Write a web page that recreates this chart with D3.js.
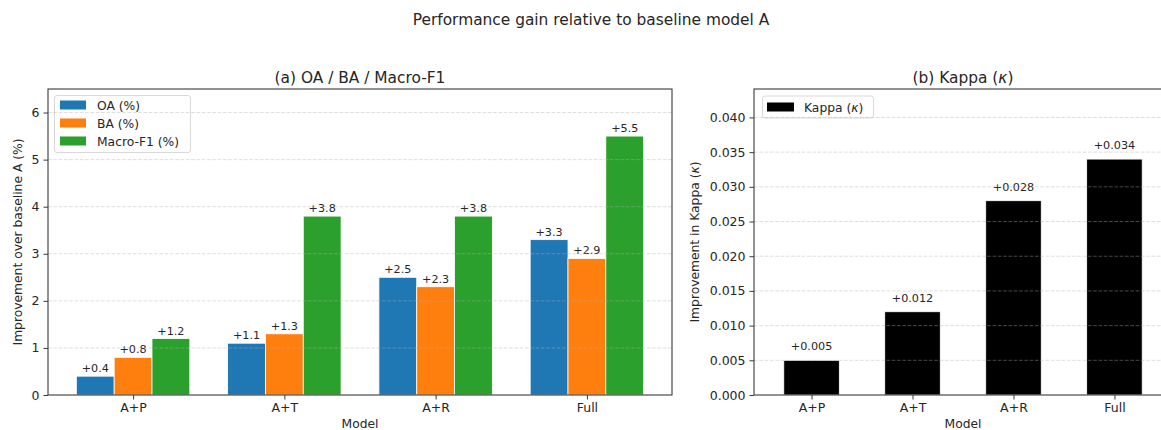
<!DOCTYPE html>
<html>
<head>
<meta charset="utf-8">
<script src="https://cdn.jsdelivr.net/npm/d3@7"></script>
<style>
  html, body { margin: 0; padding: 0; background: #fff; }
  svg { display: block; font-family: "DejaVu Sans", sans-serif; }
</style>
</head>
<body>
<svg id="chart" width="1161" height="430"></svg>
<script>
// Model variants compared against baseline A
const models = ["A+P", "A+T", "A+R", "Full"];

// Improvement in percentage points for each metric
const seriesNames = ["OA (%)", "BA (%)", "Macro-F1 (%)"];
const oaGain = [0.4, 1.1, 2.5, 3.3];
const baGain = [0.8, 1.3, 2.3, 2.9];
const f1Gain = [1.2, 3.8, 3.8, 5.5];

// Improvement in Cohen's kappa
const kappaGain = [0.005, 0.012, 0.028, 0.034];

// Tick values
const leftTicks = [0, 1, 2, 3, 4, 5, 6];
const rightTicks = [0, 0.005, 0.010, 0.015, 0.020, 0.025, 0.030, 0.035, 0.040];

const colors = ["#1f77b4", "#ff7f0e", "#2ca02c"];
const textColor = "#262626";
const spineColor = "#3a3a3a";

const svg = d3.select("#chart");

svg.append("text")
  .attr("x", 591).attr("y", 25)
  .attr("text-anchor", "middle")
  .attr("font-size", 15.4)
  .attr("fill", textColor)
  .text("Performance gain relative to baseline model A");

// Writes "prefix (κ)" with an italic kappa, as mathtext would
function kappaText(sel, prefix) {
  sel.append("tspan").text(prefix + " (");
  sel.append("tspan").attr("font-style", "italic").text("\u03BA");
  sel.append("tspan").text(")");
}

function drawPanel(opts) {
  const { left, right, top, bottom, xDomain, yMax, ticks, tickFmt } = opts;
  const g = svg.append("g");
  const x = d3.scaleLinear().domain(xDomain).range([left, right]);
  const y = d3.scaleLinear().domain([0, yMax]).range([bottom, top]);

  // bars
  opts.drawBars(g, x, y);

  // dashed grid over the bars
  g.append("g").selectAll("line")
    .data(ticks.filter(t => t > 0))
    .join("line")
    .attr("x1", left).attr("x2", right)
    .attr("y1", d => y(d)).attr("y2", d => y(d))
    .attr("stroke", "#b0b0b0")
    .attr("stroke-opacity", 0.45)
    .attr("stroke-width", 0.9)
    .attr("stroke-dasharray", "3.7,1.6");

  // y axis
  const yAxis = d3.axisLeft(y).tickValues(ticks).tickFormat(tickFmt)
    .tickSize(4.5).tickPadding(4);
  const ya = g.append("g").attr("transform", `translate(${left},0)`).call(yAxis);
  ya.select(".domain").remove();
  ya.selectAll(".tick line").attr("stroke", spineColor).attr("stroke-width", 1);
  ya.selectAll(".tick text").attr("font-size", 12.5).attr("fill", textColor)
    .attr("font-family", "DejaVu Sans, sans-serif");

  // x axis
  const xAxis = d3.axisBottom(x).tickValues(d3.range(models.length))
    .tickFormat(i => models[i]).tickSize(4.5).tickPadding(3.5);
  const xa = g.append("g").attr("transform", `translate(0,${bottom})`).call(xAxis);
  xa.select(".domain").remove();
  xa.selectAll(".tick line").attr("stroke", spineColor).attr("stroke-width", 1);
  xa.selectAll(".tick text").attr("font-size", 12.5).attr("fill", textColor)
    .attr("font-family", "DejaVu Sans, sans-serif");

  // spines
  g.append("rect")
    .attr("x", left).attr("y", top)
    .attr("width", right - left).attr("height", bottom - top)
    .attr("fill", "none").attr("stroke", spineColor).attr("stroke-width", 1.1);

  // titles and labels
  const cx = (left + right) / 2;
  const title = g.append("text").attr("x", cx).attr("y", top - 6.5)
    .attr("text-anchor", "middle").attr("font-size", 15.4).attr("fill", textColor);
  opts.title(title);
  g.append("text").attr("x", cx).attr("y", bottom + 32.5)
    .attr("text-anchor", "middle").attr("font-size", 12.3).attr("fill", textColor)
    .text("Model");
  const yl = g.append("text")
    .attr("transform", `translate(${opts.ylabelX},${(top + bottom) / 2}) rotate(-90)`)
    .attr("text-anchor", "middle").attr("font-size", 12.3).attr("fill", textColor);
  opts.ylabel(yl);

  return g;
}

function valueLabel(g, xc, yTop, text) {
  g.append("text")
    .attr("x", xc).attr("y", yTop - 4)
    .attr("text-anchor", "middle")
    .attr("font-size", 11.2)
    .attr("fill", textColor)
    .text(text);
}

// (a) grouped bars
const gainSeries = [oaGain, baGain, f1Gain];
const groupWidth = 0.25;
drawPanel({
  left: 48, right: 672, top: 89, bottom: 395,
  xDomain: [-0.5625, 3.5625], yMax: 6.5,
  ticks: leftTicks, tickFmt: d3.format("d"),
  title: t => t.text("(a) OA / BA / Macro-F1"),
  ylabel: t => t.text("Improvement over baseline A (%)"), ylabelX: 22,
  drawBars(g, x, y) {
    gainSeries.forEach((vals, s) => {
      const off = (s - 1) * groupWidth;
      vals.forEach((v, i) => {
        const x0 = x(i + off - groupWidth / 2), x1 = x(i + off + groupWidth / 2);
        g.append("rect")
          .attr("x", x0).attr("y", y(v))
          .attr("width", x1 - x0).attr("height", y(0) - y(v))
          .attr("fill", colors[s])
          .attr("stroke", "#ffffff").attr("stroke-width", 0.8);
        valueLabel(g, (x0 + x1) / 2, y(v), "+" + d3.format(".1f")(v));
      });
    });
    // legend
    const lg = g.append("g");
    lg.append("rect").attr("x", 54.5).attr("y", 95.5).attr("width", 136).attr("height", 57)
      .attr("rx", 2.5).attr("fill", "#fff").attr("fill-opacity", 0.8)
      .attr("stroke", "#d9d9d9").attr("stroke-width", 1);
    seriesNames.forEach((n, s) => {
      const yy = 105 + s * 18;
      lg.append("rect").attr("x", 60).attr("y", yy - 4.5).attr("width", 26).attr("height", 9)
        .attr("fill", colors[s]);
      lg.append("text").attr("x", 97).attr("y", yy + 4.5)
        .attr("font-size", 12.3).attr("fill", textColor).text(n);
    });
  }
});

// (b) kappa bars
const kappaWidth = 0.55;
drawPanel({
  left: 754, right: 1172, top: 89, bottom: 395,
  xDomain: [-0.57, 3.57], yMax: 0.0441,
  ticks: rightTicks, tickFmt: d3.format(".3f"),
  title: t => kappaText(t, "(b) Kappa"),
  ylabel: t => kappaText(t, "Improvement in Kappa"), ylabelX: 699,
  drawBars(g, x, y) {
    kappaGain.forEach((v, i) => {
      const x0 = x(i - kappaWidth / 2), x1 = x(i + kappaWidth / 2);
      g.append("rect")
        .attr("x", x0).attr("y", y(v))
        .attr("width", x1 - x0).attr("height", y(0) - y(v))
        .attr("fill", "#000")
        .attr("stroke", "#ffffff").attr("stroke-width", 0.8);
      valueLabel(g, (x0 + x1) / 2, y(v) - 6, "+" + d3.format(".3f")(v));
    });
    const lg = g.append("g");
    lg.append("rect").attr("x", 762.5).attr("y", 96).attr("width", 111).attr("height", 22)
      .attr("rx", 2.5).attr("fill", "#fff").attr("fill-opacity", 0.8)
      .attr("stroke", "#d9d9d9").attr("stroke-width", 1);
    lg.append("rect").attr("x", 767).attr("y", 102.5).attr("width", 27).attr("height", 9)
      .attr("fill", "#000");
    const lt = lg.append("text").attr("x", 804).attr("y", 111.5)
      .attr("font-size", 12.3).attr("fill", textColor);
    kappaText(lt, "Kappa");
  }
});
</script>
</body>
</html>
